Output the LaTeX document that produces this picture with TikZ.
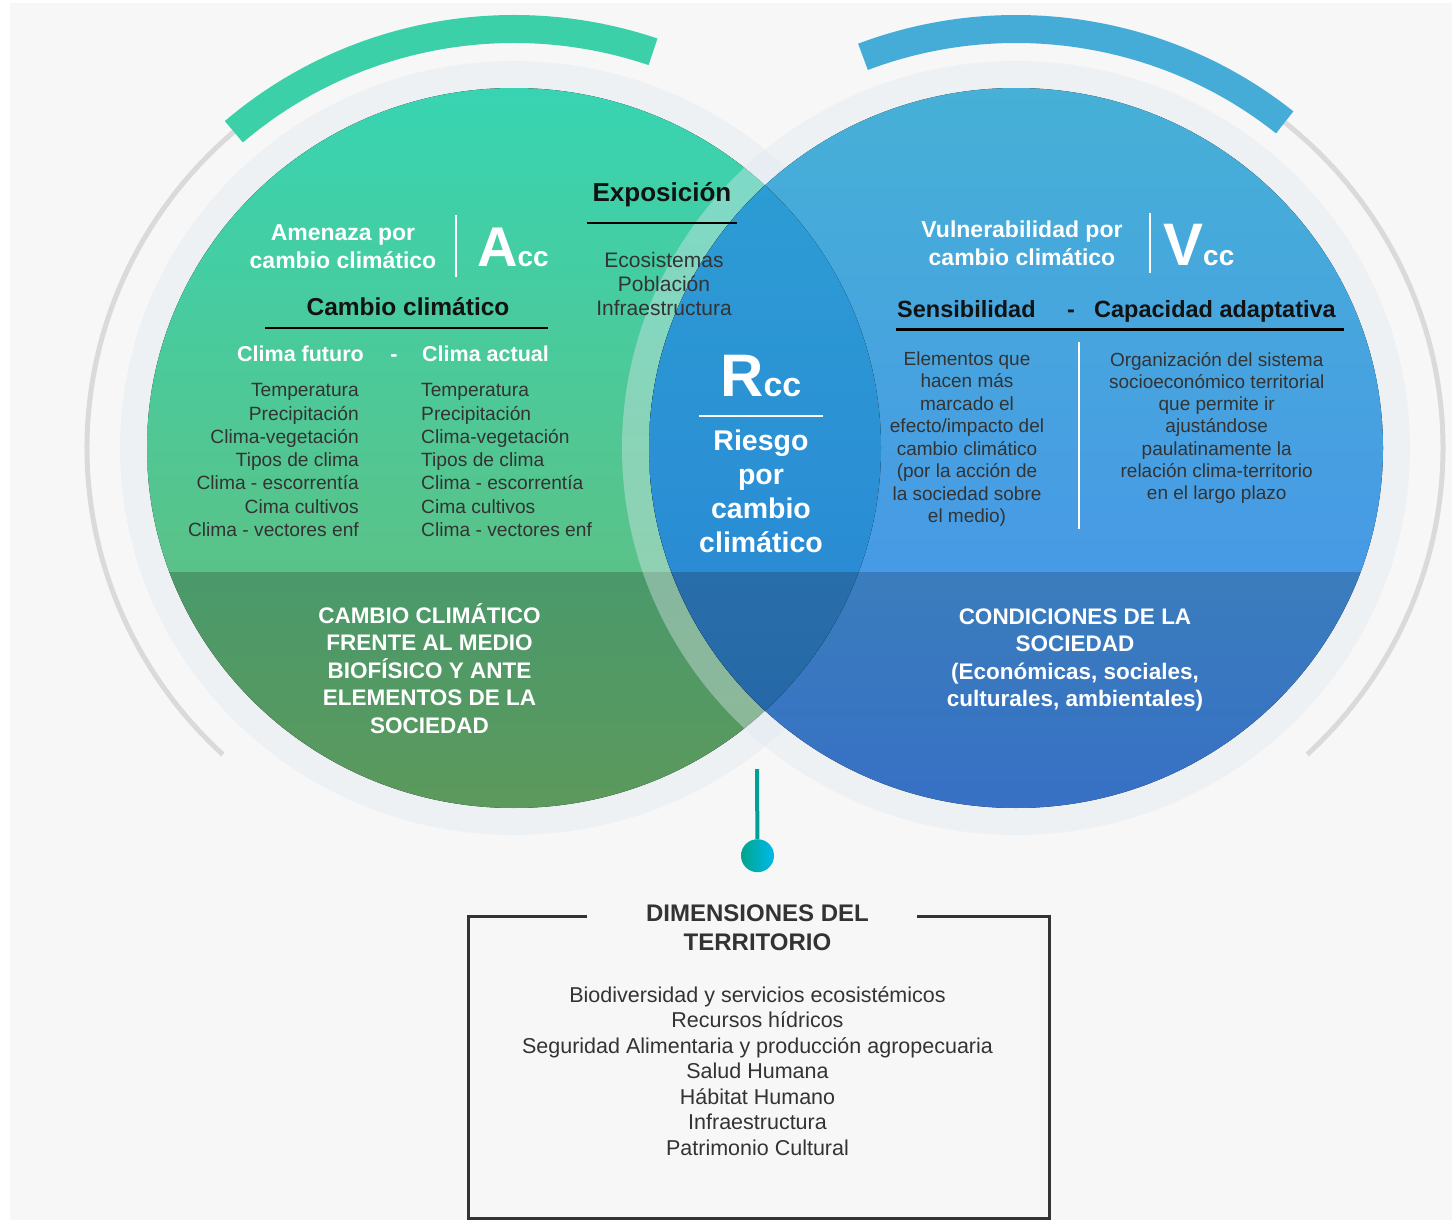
\documentclass[tikz,border=0pt]{standalone}
\usepackage{fontspec}
\setmainfont{Liberation Sans}
\newcommand\fsz[2]{\fontsize{#1}{#2}\selectfont}
\definecolor{bgray}{RGB}{247,247,247}
\definecolor{arcgray}{RGB}{218,218,218}
\definecolor{arcgreen}{RGB}{60,208,168}
\definecolor{arcblue}{RGB}{68,172,214}
\definecolor{halo}{RGB}{224,232,240}
\definecolor{gtop}{RGB}{56,212,178}
\definecolor{gmid}{RGB}{90,194,136}
\definecolor{glowa}{RGB}{74,153,107}
\definecolor{glowb}{RGB}{92,153,92}
\definecolor{btop}{RGB}{70,176,214}
\definecolor{bmid}{RGB}{71,154,229}
\definecolor{blowa}{RGB}{58,125,188}
\definecolor{blowb}{RGB}{55,112,197}
\definecolor{ltop}{RGB}{45,160,212}
\definecolor{lmid}{RGB}{42,140,212}
\definecolor{llowa}{RGB}{40,110,170}
\definecolor{llowb}{RGB}{38,100,165}
\definecolor{txtgray}{RGB}{51,51,51}
\definecolor{stemc}{RGB}{0,160,150}
\definecolor{dotl}{RGB}{0,165,140}
\definecolor{dotr}{RGB}{0,185,235}
\tikzset{
  wtxt/.style={text=white, inner sep=0pt, align=center},
  ktxt/.style={text=black!93, inner sep=0pt, align=center},
  gtxt/.style={text=txtgray, inner sep=0pt, align=center},
  rule/.style={line width=2pt},
  disc/.style={x radius=367pt, y radius=360pt},
  halodisc/.style={x radius=394pt, y radius=387pt},
  outer/.style={x radius=427pt, y radius=419pt},
}
\begin{document}
\begin{tikzpicture}[x=1pt,y=1pt]
  \useasboundingbox (0,0) rectangle (1452,-1220);
  \fill[white] (0,0) rectangle (1452,-1220);
  \fill[bgray] (10,-3) rectangle (1452,-1220);
  \coordinate (gc) at (514,-448);
  \coordinate (bc) at (1016,-448);

  % outer arcs
  \draw[line width=5pt, arcgray] (gc) ++(131:427pt and 419pt) arc[start angle=131, end angle=227, outer];
  \draw[line width=28pt, arcgreen] (gc) ++(71:427pt and 419pt) arc[start angle=71, end angle=131, outer];
  \draw[line width=5pt, arcgray] (bc) ++(51:427pt and 419pt) arc[start angle=51, end angle=-47, outer];
  \draw[line width=28pt, arcblue] (bc) ++(51:427pt and 419pt) arc[start angle=51, end angle=111, outer];

  % green disc
  \fill[halo, opacity=.4] (gc) ellipse[halodisc];
  \begin{scope}
    \clip (gc) ellipse[disc];
    \fill[top color=gtop, bottom color=gmid] (140,-88) rectangle (890,-572);
    \fill[top color=glowa, bottom color=glowb] (140,-572) rectangle (890,-808);
  \end{scope}

  % blue disc
  \fill[halo, opacity=.4] (bc) ellipse[halodisc];
  \begin{scope}
    \clip (bc) ellipse[disc];
    \fill[top color=btop, bottom color=bmid] (640,-88) rectangle (1390,-572);
    \fill[top color=blowa, bottom color=blowb] (640,-572) rectangle (1390,-808);
  \end{scope}

  % overlap
  \begin{scope}
    \clip (gc) ellipse[disc];
    \clip (bc) ellipse[disc];
    \fill[top color=ltop, bottom color=lmid] (640,-88) rectangle (890,-572);
    \fill[top color=llowa, bottom color=llowb] (640,-572) rectangle (890,-808);
  \end{scope}

  % amenaza
  \node[wtxt, font=\bfseries\fsz{23}{28}, anchor=base] (amen) at (343,-268) {Amenaza por\\cambio climático};
  \draw[white, rule] (456,-215) -- (456,-277);
  \node[wtxt, font=\bfseries, anchor=base west] (acc) at (477,-266.7) {\fsz{56}{56}A\fsz{28}{28}cc};
  \node[ktxt, font=\bfseries\fsz{24.5}{28}, anchor=base] (cclim) at (408,-315) {Cambio climático};
  \draw[rule] (265,-328) -- (548,-328);
  \node[wtxt, font=\bfseries\fsz{21.5}{24}, anchor=base east] (futuro) at (364,-361) {Clima futuro};
  \node[wtxt, font=\bfseries\fsz{21.5}{24}, anchor=base] (resta) at (394,-361) {-};
  \node[wtxt, font=\bfseries\fsz{21.5}{24}, anchor=base west] (actual) at (422,-361) {Clima actual};
  \foreach \t [count=\i] in {Temperatura,Precipitación,Clima-vegetación,Tipos de clima,Clima - escorrentía,Cima cultivos,Clima - vectores enf}{
    \node[gtxt, font=\fsz{19.2}{23}, anchor=base east] (fut\i) at (359,{-396.7-23.3*(\i-1)}) {\t};
    \node[gtxt, font=\fsz{19.2}{23}, anchor=base west] (act\i) at (421,{-396.7-23.3*(\i-1)}) {\t};
  }

  % exposicion
  \node[ktxt, font=\bfseries\fsz{26}{30}, anchor=base] (expo) at (662,-201.7) {Exposición};
  \draw[rule] (587,-222.7) -- (737,-222.7);
  \node[gtxt, font=\fsz{21}{24.3}, anchor=base] (expel) at (664,-315.6) {Ecosistemas\\Población\\Infraestructura};

  % riesgo
  \node[wtxt, font=\bfseries, anchor=base west] (rcc) at (720,-396.7) {\fsz{60}{60}R\fsz{34}{34}cc};
  \draw[white, rule] (699,-416) -- (823,-416);
  \node[wtxt, font=\bfseries\fsz{28.5}{34}, anchor=base] (riesgo) at (761,-552.7) {Riesgo\\por\\cambio\\climático};

  % vulnerabilidad
  \node[wtxt, font=\bfseries\fsz{23}{28}, anchor=base] (vuln) at (1022,-265.3) {Vulnerabilidad por\\cambio climático};
  \draw[white, rule] (1150,-213) -- (1150,-273);
  \node[wtxt, font=\bfseries, anchor=base west] (vcc) at (1163,-265) {\fsz{60}{60}V\fsz{28}{28}cc};
  \node[ktxt, font=\bfseries\fsz{23.5}{28}, anchor=base west] (sens) at (897,-317.3) {Sensibilidad};
  \node[ktxt, font=\bfseries\fsz{23.5}{28}, anchor=base] (resta2) at (1071,-317.3) {-};
  \node[ktxt, font=\bfseries\fsz{23.5}{28}, anchor=base west] (capad) at (1094,-317.3) {Capacidad adaptativa};
  \draw[line width=2.5pt] (896,-329.3) -- (1344,-329.3);
  \node[gtxt, font=\fsz{19}{22.5}, anchor=base] (sensdes) at (967,-522.5) {Elementos que\\hacen más\\marcado el\\efecto/impacto del\\cambio climático\\(por la acción de\\la sociedad sobre\\el medio)};
  \draw[white, line width=2.5pt] (1079,-342) -- (1079,-529);
  \node[gtxt, font=\fsz{19}{22.3}, anchor=base] (capdes) at (1216.7,-499.8) {Organización del sistema\\socioeconómico territorial\\que permite ir\\ajustándose\\paulatinamente la\\relación clima-territorio\\en el largo plazo};

  % bandas inferiores
  \node[wtxt, font=\bfseries\fsz{22.5}{27.5}, anchor=base] (medio) at (429.5,-733.3) {CAMBIO CLIMÁTICO\\FRENTE AL MEDIO\\BIOFÍSICO Y ANTE\\ELEMENTOS DE LA\\SOCIEDAD};
  \node[wtxt, font=\bfseries\fsz{22.5}{27.5}, anchor=base] (condi) at (1075,-706.8) {CONDICIONES DE LA\\SOCIEDAD\\(Económicas, sociales,\\culturales, ambientales)};

  % dimensiones
  \coordinate (stem) at (757,-769);
  \node[circle, inner sep=0pt, minimum size=33pt, left color=dotl, right color=dotr] (dot) at (757.5,-855.7) {};
  \draw[line width=4pt, stemc] (stem) -- (dot);
  \node[gtxt, font=\bfseries\fsz{24}{29}, anchor=base] (dimtit) at (757.5,-950.7) {DIMENSIONES DEL\\TERRITORIO};
  \draw[line width=3pt, txtgray] (587,-916) -- (468,-916) -- (468,-1218) -- (1049,-1218) -- (1049,-916) -- (917,-916);
  \node[gtxt, font=\fsz{21.5}{25.45}, anchor=base] (dimlist) at (757.5,-1155) {Biodiversidad y servicios ecosistémicos\\Recursos hídricos\\Seguridad Alimentaria y producción agropecuaria\\Salud Humana\\Hábitat Humano\\Infraestructura\\Patrimonio Cultural};
\end{tikzpicture}
\end{document}
